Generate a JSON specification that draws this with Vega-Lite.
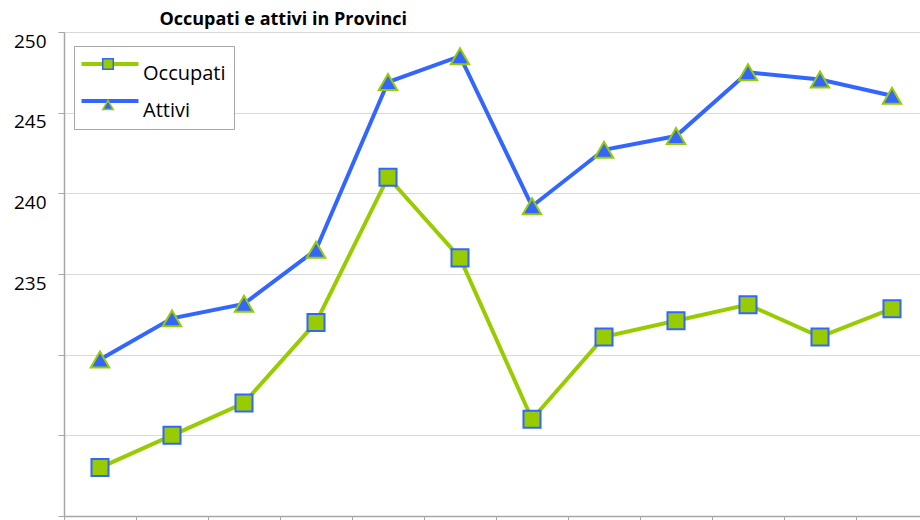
{
  "$schema": "https://vega.github.io/schema/vega-lite/v6.json",
  "autosize": "none",
  "width": 856,
  "height": 484,
  "padding": {"left": 64, "top": 32, "right": 0, "bottom": 4},
  "background": "white",
  "title": {"text": "Occupati e attivi in Provinci", "anchor": "start", "dx": 146, "font": "Open Sans", "fontSize": 18, "fontWeight": "bold", "color": "black", "baseline": "alphabetic", "offset": -11},
  "data": {"values": [
    {"t": 1, "series": "Occupati", "value": 223.0},
    {"t": 2, "series": "Occupati", "value": 225.0},
    {"t": 3, "series": "Occupati", "value": 227.0},
    {"t": 4, "series": "Occupati", "value": 232.0},
    {"t": 5, "series": "Occupati", "value": 241.0},
    {"t": 6, "series": "Occupati", "value": 236.0},
    {"t": 7, "series": "Occupati", "value": 226.0},
    {"t": 8, "series": "Occupati", "value": 231.1},
    {"t": 9, "series": "Occupati", "value": 232.1},
    {"t": 10, "series": "Occupati", "value": 233.1},
    {"t": 11, "series": "Occupati", "value": 231.1},
    {"t": 12, "series": "Occupati", "value": 232.85},
    {"t": 1, "series": "Attivi", "value": 229.7},
    {"t": 2, "series": "Attivi", "value": 232.25},
    {"t": 3, "series": "Attivi", "value": 233.15},
    {"t": 4, "series": "Attivi", "value": 236.5},
    {"t": 5, "series": "Attivi", "value": 246.9},
    {"t": 6, "series": "Attivi", "value": 248.5},
    {"t": 7, "series": "Attivi", "value": 239.2},
    {"t": 8, "series": "Attivi", "value": 242.7},
    {"t": 9, "series": "Attivi", "value": 243.55},
    {"t": 10, "series": "Attivi", "value": 247.5},
    {"t": 11, "series": "Attivi", "value": 247.05},
    {"t": 12, "series": "Attivi", "value": 246.05}
  ]},
  "encoding": {
    "x": {
      "field": "t", "type": "quantitative",
      "scale": {"domain": [0.5, 12.389], "nice": false, "zero": false},
      "axis": {"title": null, "labels": false, "grid": false, "values": [0.5, 1.5, 2.5, 3.5, 4.5, 5.5, 6.5, 7.5, 8.5, 9.5, 10.5, 11.5], "tickSize": 5, "tickColor": "#a6a6a6", "domainColor": "#a6a6a6", "domainWidth": 1.5}
    },
    "y": {
      "field": "value", "type": "quantitative",
      "scale": {"domain": [220, 250], "nice": false, "zero": false},
      "axis": {"title": null, "values": [220, 225, 230, 235, 240, 245, 250], "labelExpr": "datum.value >= 235 ? datum.label : ''", "grid": true, "gridColor": "#d9d9d9", "tickSize": 6, "tickColor": "#a6a6a6", "domainColor": "#a6a6a6", "domainWidth": 1.5, "labelFont": "Open Sans", "labelFontSize": 19, "labelColor": "black", "labelBaseline": "top", "labelPadding": 12}
    }
  },
  "layer": [
    {
      "mark": {"type": "line", "strokeWidth": 4},
      "encoding": {
        "color": {
          "field": "series", "type": "nominal",
          "scale": {"domain": ["Occupati", "Attivi"], "range": ["#99cc00", "#3366ff"]},
          "legend": {"orient": "none", "legendX": 10, "legendY": 14, "title": null, "symbolType": "M-6,0H6", "symbolSize": 90, "symbolStrokeWidth": 4, "symbolOffset": 18, "labelOffset": 23, "labelFont": "Open Sans", "labelFontSize": 20, "labelColor": "black", "labelBaseline": "top", "strokeColor": "#a6a6a6", "fillColor": "white", "padding": 8, "rowPadding": 7}
        }
      }
    },
    {
      "mark": {"type": "point", "filled": true, "opacity": 1, "strokeWidth": 2},
      "encoding": {
        "shape": {"field": "series", "type": "nominal", "sort": "descending", "scale": {"range": ["square", "triangle-up"]},
          "legend": {"orient": "none", "legendX": 26, "legendY": 14, "title": null, "symbolSize": 110, "symbolStrokeWidth": 1.5, "labelExpr": "''", "labelFontSize": 20, "padding": 8, "rowPadding": 21, "zindex": 2}},
        "fill": {"field": "series", "type": "nominal", "sort": "descending", "scale": {"range": ["#99cc00", "#3366ff"]},
          "legend": {"orient": "none", "legendX": 26, "legendY": 14, "title": null, "symbolSize": 110, "symbolStrokeWidth": 1.5, "labelExpr": "''", "labelFontSize": 20, "padding": 8, "rowPadding": 21, "zindex": 2}},
        "stroke": {"field": "series", "type": "nominal", "sort": "descending", "scale": {"range": ["#3366ff", "#99cc00"]},
          "legend": {"orient": "none", "legendX": 26, "legendY": 14, "title": null, "symbolSize": 110, "symbolStrokeWidth": 1.5, "labelExpr": "''", "labelFontSize": 20, "padding": 8, "rowPadding": 21, "zindex": 2}},
        "size": {"condition": {"test": "datum.series === 'Attivi'", "value": 340}, "value": 290}
      }
    }
  ],
  "config": {"view": {"stroke": null}}
}
